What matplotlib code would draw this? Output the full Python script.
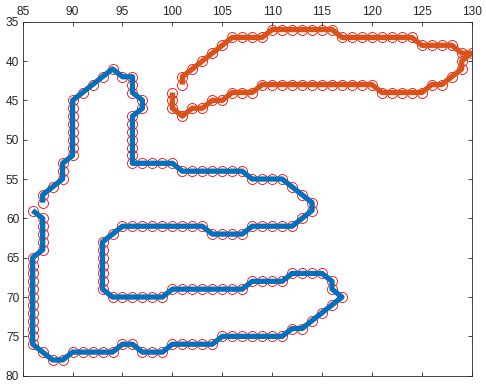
import matplotlib
matplotlib.use("Agg")
import matplotlib.pyplot as plt

# Blue contour (x, y) points
blue_x = [86, 87, 87, 87, 87, 87,
          86, 86, 86, 86, 86, 86, 86, 86, 86, 86, 86, 86,
          87, 88, 89, 90, 91, 92, 93, 94, 95, 96, 97, 98, 99,
          100, 101, 102, 103, 104,
          105, 106, 107, 108, 109, 110, 111,
          112, 113, 114, 115, 116, 117, 116, 116,
          115, 114, 113, 112,
          111, 110, 109, 108,
          107, 106, 105, 104, 103, 102, 101, 100,
          99, 98, 97, 96, 95, 94,
          93, 93, 93, 93, 93, 93, 93,
          94, 95, 96, 97, 98, 99, 100, 101, 102, 103,
          104, 105, 106, 107,
          108, 109, 110, 111, 112,
          113, 114, 114, 113, 112,
          111, 110, 109, 108,
          107, 106, 105, 104, 103, 102, 101,
          100, 99, 98, 97, 96,
          96, 96, 96, 96, 96, 96,
          97, 97, 96, 96, 96, 95, 94,
          93, 92, 91, 90, 90, 90, 90, 90, 90, 90, 90,
          89, 89, 89, 88, 87, 87]
blue_y = [59, 60, 61, 62, 63, 64,
          65, 66, 67, 68, 69, 70, 71, 72, 73, 74, 75, 76,
          77, 78, 78, 77, 77, 77, 77, 77, 76, 76, 77, 77, 77,
          76, 76, 76, 76, 76,
          75, 75, 75, 75, 75, 75, 75,
          74, 74, 73, 72, 71, 70, 69, 68,
          67, 67, 67, 67,
          68, 68, 68, 68,
          69, 69, 69, 69, 69, 69, 69, 69,
          70, 70, 70, 70, 70, 70,
          69, 68, 67, 66, 65, 64, 63,
          62, 61, 61, 61, 61, 61, 61, 61, 61, 61,
          62, 62, 62, 62,
          61, 61, 61, 61, 61,
          60, 59, 58, 57, 56,
          55, 55, 55, 55,
          54, 54, 54, 54, 54, 54, 54,
          53, 53, 53, 53, 53,
          52, 51, 50, 49, 48, 47,
          46, 45, 44, 43, 42, 42, 41,
          42, 43, 44, 45, 46, 47, 48, 49, 50, 51, 52,
          53, 54, 55, 56, 57, 58]

# Orange contour (x, y) points
orange_x = [101, 101, 102, 103, 104, 105,
            106, 107, 108, 109,
            110, 111, 112, 113, 114, 115, 116,
            117, 118, 119, 120, 121, 122, 123, 124,
            125, 126, 127, 128,
            129, 130, 129, 129, 128, 127, 126,
            125, 124, 123, 122, 121,
            120, 119, 118, 117, 116, 115, 114, 113, 112, 111, 110, 109,
            108, 107, 106, 105, 104, 103, 102, 101, 100, 100, 100]
orange_y = [43, 42, 41, 40, 39, 38,
            37, 37, 37, 37,
            36, 36, 36, 36, 36, 36, 36,
            37, 37, 37, 37, 37, 37, 37, 37,
            38, 38, 38, 38,
            39, 39, 40, 41, 42, 43, 43,
            44, 44, 44, 44, 44,
            43, 43, 43, 43, 43, 43, 43, 43, 43, 43, 43, 43,
            44, 44, 44, 45, 45, 46, 46, 47, 46, 45, 44]

x_ticks = [85, 90, 95, 100, 105, 110, 115, 120, 125, 130]
y_ticks = [35, 40, 45, 50, 55, 60, 65, 70, 75, 80]

plt.rcParams['font.family'] = ['Liberation Sans', 'DejaVu Sans']

fig = plt.figure(figsize=(4.86, 3.85), dpi=100)
ax = fig.add_axes([22.7 / 486, 1 - 375.7 / 385, (471.7 - 22.7) / 486, (375.7 - 21.7) / 385])

ms = 7.2
ax.plot(blue_x, blue_y, linestyle='none', marker='o', markersize=ms,
        markerfacecolor='none', markeredgecolor='#FF0000', markeredgewidth=0.6, zorder=2)
ax.plot(blue_x, blue_y, color='#0072BD', linewidth=3.8, solid_joinstyle='round',
        solid_capstyle='butt', zorder=3)
ax.plot(orange_x, orange_y, linestyle='none', marker='o', markersize=ms,
        markerfacecolor='none', markeredgecolor='#FF0000', markeredgewidth=0.6, zorder=2)
ax.plot(orange_x, orange_y, color='#D95319', linewidth=3.8, solid_joinstyle='round',
        solid_capstyle='butt', zorder=3)

ax.set_xlim(85, 130)
ax.set_ylim(80, 35)
ax.set_xticks(x_ticks)
ax.set_yticks(y_ticks)
ax.xaxis.tick_top()
ax.tick_params(axis='both', which='both', direction='in', length=3.2, width=0.6,
               colors='#262626', labelsize=8.6, top=True, bottom=True, left=True, right=True,
               labeltop=True, labelbottom=False, labelleft=True, labelright=False, pad=2.5)
for s in ax.spines.values():
    s.set_color('#262626')
    s.set_linewidth(0.6)

fig.savefig('out.png', dpi=100)
